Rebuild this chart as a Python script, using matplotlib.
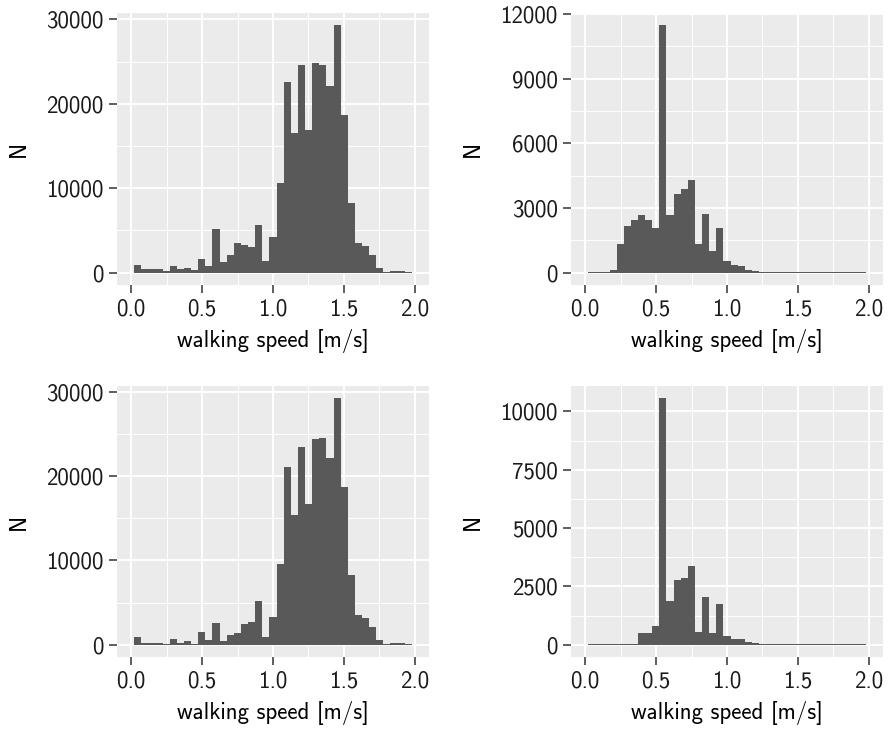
import numpy as np
import matplotlib
matplotlib.use('Agg')
import matplotlib.pyplot as plt

# histogram bins (shared by all four panels)
bin_lo, bin_hi, n_bins = 0.021, 1.979, 39

# counts per bin
counts_tl = [900, 430, 430, 430, 200, 790, 430, 550, 320, 1620,
             790, 5170, 1260, 2090, 3510, 3270, 3030, 5640, 1380, 4220,
             10630, 22610, 16560, 24620, 16920, 24860, 24620, 22130, 29280, 18700,
             8250, 3510, 3150, 2090, 550, 80, 200, 200, 80]
counts_tr = [30, 30, 30, 125, 1330, 2170, 2450, 2680, 2450, 2070,
             11470, 2680, 3650, 3890, 4300, 1330, 2720, 1010, 2070, 540,
             355, 310, 125, 80, 40, 30, 30, 25, 25, 25,
             20, 20, 20, 20, 20, 20, 20, 20, 20]
counts_bl = [950, 240, 240, 240, 120, 710, 240, 470, 120, 1540,
             590, 2600, 470, 1180, 1420, 2490, 2720, 5210, 950, 3320,
             9590, 21080, 15400, 23450, 16700, 24400, 24520, 22150, 29220, 18710,
             8290, 3550, 3200, 2130, 590, 120, 240, 240, 120]
counts_br = [30, 30, 30, 30, 30, 30, 30, 500, 500, 800,
             10560, 1870, 2770, 2860, 3370, 540, 2040, 500, 1740, 370,
             240, 240, 115, 70, 30, 30, 30, 30, 30, 30,
             30, 30, 30, 30, 30, 30, 30, 30, 30]

x_ticks = [0.0, 0.5, 1.0, 1.5, 2.0]
x_minor = [0.25, 0.75, 1.25, 1.75]
yticks_tl = [0, 10000, 20000, 30000]
yticks_tr = [0, 3000, 6000, 9000, 12000]
yticks_bl = [0, 10000, 20000, 30000]
yticks_br = [0, 2500, 5000, 7500, 10000]

xlabel = 'walking speed [m/s]'
ylabel = 'N'

plt.rcParams['font.family'] = ['cmss10', 'DejaVu Sans']
plt.rcParams['axes.unicode_minus'] = False

W, H = 888, 729
fig = plt.figure(figsize=(W / 100, H / 100), dpi=100)


def px_rect(x0, y0, x1, y1):
    return [x0 / W, 1 - y1 / H, (x1 - x0) / W, (y1 - y0) / H]


panels = [
    (px_rect(117, 13, 429, 285), counts_tl, yticks_tl),
    (px_rect(571, 13, 883, 285), counts_tr, yticks_tr),
    (px_rect(117, 386, 429, 657), counts_bl, yticks_bl),
    (px_rect(571, 386, 883, 657), counts_br, yticks_br),
]

edges = np.linspace(bin_lo, bin_hi, n_bins + 1)
fs = 16.5

for rect, counts, yticks in panels:
    ax = fig.add_axes(rect)
    ax.set_facecolor('#EBEBEB')
    for s in ax.spines.values():
        s.set_visible(False)

    ax.bar(edges[:-1], counts, width=np.diff(edges), align='edge',
           color='#595959', linewidth=0, zorder=3)

    ymax = max(counts)
    ax.set_xlim(-0.1, 2.1)
    ax.set_ylim(-0.05 * ymax, 1.05 * ymax)

    ax.set_xticks(x_ticks, labels=[f'{v:.1f}' for v in x_ticks])
    ax.set_xticks(x_minor, minor=True)
    ax.set_yticks(yticks, labels=[str(v) for v in yticks])
    ymid = [(a + b) / 2 for a, b in zip(yticks[:-1], yticks[1:])]
    ax.set_yticks(ymid, minor=True)

    ax.grid(which='major', color='white', linewidth=1.4, zorder=0)
    ax.grid(which='minor', color='white', linewidth=0.7, zorder=0)
    ax.set_axisbelow(True)

    ax.tick_params(which='major', length=5.5, width=1.1, color='#333333',
                   labelsize=fs, labelcolor='#1a1a1a', pad=4)
    ax.tick_params(which='minor', length=0)

    ax.set_xlabel(xlabel, fontsize=fs, labelpad=6)
    ax.set_ylabel(ylabel, fontsize=fs, labelpad=12)

fig.savefig('out.png', dpi=100)
